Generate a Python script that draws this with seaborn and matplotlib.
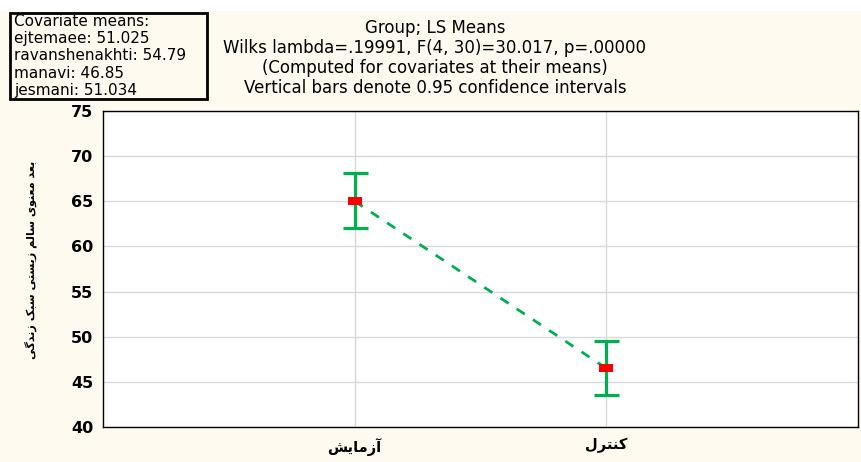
import matplotlib
matplotlib.use('Agg')
import matplotlib.pyplot as plt
from matplotlib.patches import Rectangle
import seaborn as sns
import pandas as pd

# Persian text stored as shaped presentation forms (logical order); reversed for display
groups = ['\uFE81\uFEAF\uFEE3\uFE8E\uFBFE\uFEB6',   # آزمایش
          '\uFB90\uFEE8\uFE98\uFEAE\uFEDD']         # کنترل
means = [65.0, 46.5]
ci_low = [62.0, 43.5]
ci_high = [68.1, 49.5]
y_label = ('\uFE91\uFECC\uFEAA \uFEE3\uFECC\uFEE8\uFEEE\uFBFC \uFEB3\uFE8E\uFEDF\uFEE2 '
           '\uFEAF\uFBFE\uFEB4\uFE98\uFBFD \uFEB3\uFE92\uFB8F \uFEAF\uFEE7\uFEAA\uFB94\uFBFD')
covariates = ['Covariate means:', 'ejtemaee: 51.025', 'ravanshenakhti: 54.79',
              'manavi: 46.85', 'jesmani: 51.034']
title_lines = ['Group; LS Means',
               'Wilks lambda=.19991, F(4, 30)=30.017, p=.00000',
               '(Computed for covariates at their means)',
               'Vertical bars denote 0.95 confidence intervals']


def vis(s):
    return s[::-1]


df = pd.DataFrame({'pos': range(len(groups)), 'mean': means,
                   'lo': ci_low, 'hi': ci_high})

cream = '#FEFAF0'
green = '#00B050'
W, H = 862, 462

sns.set_theme(style='whitegrid')
plt.rcParams['font.family'] = ['DejaVu Sans']
plt.rcParams['text.color'] = 'black'
plt.rcParams['xtick.color'] = 'black'
plt.rcParams['ytick.color'] = 'black'
plt.rcParams['axes.labelcolor'] = 'black'

fig = plt.figure(figsize=(W / 100, H / 100), dpi=100, facecolor=cream)
fig.patches.append(Rectangle((0, 1 - 11 / H), 1, 11 / H, transform=fig.transFigure,
                             facecolor='white', edgecolor='none', zorder=0))
ax = fig.add_axes([103 / W, 1 - 427 / H, 755 / W, 316 / H])
ax.set_facecolor('white')

ax.errorbar(df['pos'], df['mean'],
            yerr=[df['mean'] - df['lo'], df['hi'] - df['mean']],
            fmt='none', ecolor=green, elinewidth=2.3, capsize=9, capthick=2.3, zorder=3)
sns.lineplot(data=df, x='pos', y='mean', color=green, lw=2, ax=ax, zorder=2)
ax.lines[-1].set_dashes((3.5, 3.5))
rect = [(-6, -3.5), (6, -3.5), (6, 3.5), (-6, 3.5), (-6, -3.5)]
sns.scatterplot(data=df, x='pos', y='mean', marker=rect, s=100, color='#FF0000',
                edgecolor='none', ax=ax, zorder=4)

ax.set_xlim(-1, 2)
ax.set_ylim(40, 75)
ax.set_yticks(range(40, 80, 5))
ax.set_xticks(df['pos'])
ax.set_xticklabels([vis(g) for g in groups], fontsize=10.5, fontweight='bold')
ax.tick_params(axis='y', labelsize=11.5, pad=1)
for t in ax.get_yticklabels():
    t.set_fontweight('bold')
ax.tick_params(axis='x', pad=2)
ax.set_xlabel('')
ax.set_ylabel(vis(y_label), fontsize=8, fontweight='bold')
ax.yaxis.set_label_coords(-0.088, 0.53)
ax.grid(True, color='#D9D9D9', lw=1)
for sp in ax.spines.values():
    sp.set_color('black')
    sp.set_linewidth(1)

# covariate box
fig.patches.append(Rectangle((10 / W, 1 - 99 / H), 197 / W, 86 / H, transform=fig.transFigure,
                             facecolor=cream, edgecolor='black', lw=2, zorder=1))
for i, line in enumerate(covariates):
    fig.text(14 / W, 1 - (22 + 17 * i) / H, line, fontsize=11, va='center', ha='left')

for y, line in zip([28, 48, 68, 88], title_lines):
    fig.text(435 / W, 1 - y / H, line, fontsize=12, va='center', ha='center')

fig.savefig('out.png', dpi=100, facecolor=cream)
